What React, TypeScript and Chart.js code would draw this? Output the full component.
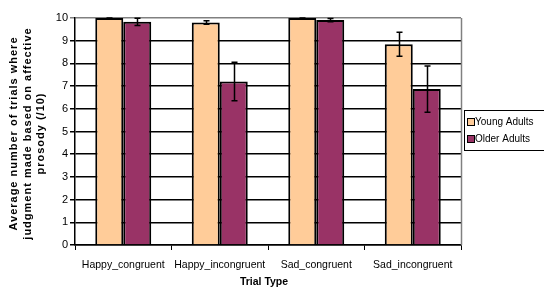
import React, { useEffect, useRef } from "react";
import { Chart, registerables } from "chart.js";

Chart.register(...registerables);

const categories = ["Happy_congruent", "Happy_incongruent", "Sad_congruent", "Sad_incongruent"];
const youngValues = [10.0, 9.8, 10.0, 8.84];
const youngErrors = [0.02, 0.08, 0.02, 0.53];
const olderValues = [9.83, 7.2, 9.91, 6.87];
const olderErrors = [0.16, 0.85, 0.07, 1.02];
const seriesNames = ["Young Adults", "Older Adults"];
const seriesColors = ["#FFCC99", "#993366"];
const yTitleLines = ["Average number of trials where", "judgment made based on affective", "prosody (/10)"];
const xTitle = "Trial Type";

const errorBarPlugin = {
  id: "errorBars",
  afterDatasetsDraw(chart: any) {
    const ctx = chart.ctx;
    const yScale = chart.scales.y;
    const errs = [youngErrors, olderErrors];
    ctx.save();
    ctx.strokeStyle = "#000";
    ctx.lineWidth = 1.5;
    chart.data.datasets.forEach((ds: any, di: number) => {
      const meta = chart.getDatasetMeta(di);
      meta.data.forEach((bar: any, i: number) => {
        const v = ds.data[i];
        const e = errs[di][i];
        const x = Math.round(bar.x) + 0.5;
        const yTop = yScale.getPixelForValue(Math.min(10, v + e));
        const yBot = yScale.getPixelForValue(v - e);
        ctx.beginPath();
        ctx.moveTo(x, yTop);
        ctx.lineTo(x, yBot);
        ctx.moveTo(x - 3, yTop);
        ctx.lineTo(x + 3, yTop);
        ctx.moveTo(x - 3, yBot);
        ctx.lineTo(x + 3, yBot);
        ctx.stroke();
      });
    });
    ctx.restore();
  },
};

const decorPlugin = {
  id: "decor",
  afterDraw(chart: any) {
    const ctx = chart.ctx;
    const a = chart.chartArea;
    ctx.save();
    // right plot border
    ctx.strokeStyle = "#808080";
    ctx.lineWidth = 1.5;
    ctx.beginPath();
    ctx.moveTo(Math.round(a.right) + 0.5, a.top);
    ctx.lineTo(Math.round(a.right) + 0.5, a.bottom);
    ctx.stroke();

    // y title
    ctx.fillStyle = "#000";
    ctx.font = "bold 11px 'Liberation Sans', Arial, sans-serif";
    (ctx as any).letterSpacing = "1px";
    ctx.textAlign = "center";
    ctx.textBaseline = "middle";
    const cy = (a.top + a.bottom) / 2 + 2;
    const xs = [14, 28, 41];
    yTitleLines.forEach((line, i) => {
      ctx.save();
      ctx.translate(xs[i], cy);
      ctx.rotate(-Math.PI / 2);
      ctx.fillText(line, 0, 0);
      ctx.restore();
    });
    (ctx as any).letterSpacing = "0px";

    // x title
    ctx.font = "bold 10.5px 'Liberation Sans', Arial, sans-serif";
    ctx.fillText(xTitle, 264, 282);

    // legend
    ctx.strokeStyle = "#000";
    ctx.lineWidth = 1;
    ctx.strokeRect(464.5, 110.5, 82, 40);
    ctx.font = "10px 'Liberation Sans', Arial, sans-serif";
    ctx.textAlign = "left";
    const rows = [122, 139];
    seriesNames.forEach((name, i) => {
      ctx.fillStyle = seriesColors[i];
      ctx.fillRect(467.5, rows[i] - 3.5, 7, 7);
      ctx.strokeRect(467.5, rows[i] - 3.5, 7, 7);
      ctx.fillStyle = "#000";
      ctx.fillText(name, 475, rows[i] + 0.5);
    });
    ctx.restore();
  },
};

export default function App() {
  const ref = useRef<HTMLCanvasElement | null>(null);
  useEffect(() => {
    if (!ref.current) return;
    const chart = new Chart(ref.current, {
      type: "bar",
      data: {
        labels: categories,
        datasets: [
          {
            label: seriesNames[0],
            data: youngValues,
            backgroundColor: seriesColors[0],
            borderColor: "#000",
            borderWidth: 2,
            categoryPercentage: 0.58,
            barPercentage: 1,
          },
          {
            label: seriesNames[1],
            data: olderValues,
            backgroundColor: seriesColors[1],
            borderColor: "#000",
            borderWidth: 2,
            categoryPercentage: 0.58,
            barPercentage: 1,
          },
        ],
      },
      options: {
        responsive: false,
        animation: false,
        devicePixelRatio: 1,
        layout: { padding: { left: 0, right: 83, top: 18, bottom: 0 } },
        plugins: { legend: { display: false }, tooltip: { enabled: false } },
        scales: {
          x: {
            offset: true,
            grid: {
              offset: true,
              drawOnChartArea: false,
              drawTicks: true,
              tickLength: 5,
              color: "#000",
            },
            border: { color: "#000", width: 1.5 },
            ticks: {
              color: "#000",
              padding: 9,
              maxRotation: 0,
              autoSkip: false,
              font: { family: "'Liberation Sans', Arial, sans-serif", size: 10.5 },
            },
            afterFit(scale: any) {
              scale.height = 46;
            },
          },
          y: {
            min: 0,
            max: 10,
            ticks: {
              stepSize: 1,
              color: "#000",
              padding: 2,
              font: { family: "'Liberation Sans', Arial, sans-serif", size: 11 },
            },
            grid: {
              color: (c: any) => (c.tick && c.tick.value === 10 ? "#808080" : "#000"),
              lineWidth: 1.5,
              tickLength: 5,
            },
            border: { color: "#000", width: 1.5 },
            afterFit(scale: any) {
              scale.width = 75;
            },
          },
        },
      },
      plugins: [errorBarPlugin, decorPlugin],
    });
    return () => chart.destroy();
  }, []);
  return (
    <div style={{ position: "absolute", left: 0, top: 0, width: 544, height: 291, background: "#fff" }}>
      <canvas ref={ref} width={544} height={291} />
    </div>
  );
}
